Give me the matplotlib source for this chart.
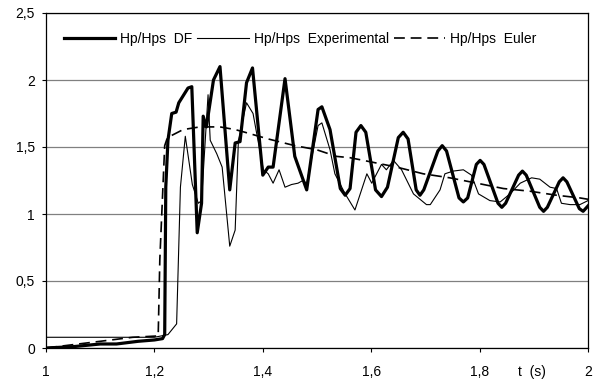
import matplotlib
matplotlib.use('Agg')
import matplotlib.pyplot as plt
from matplotlib.ticker import FuncFormatter

plt.rcParams['font.family'] = ['Liberation Sans', 'DejaVu Sans']
plt.rcParams['font.size'] = 10

# Hp/Hps DF (thick)
t_df = [1.0, 1.05, 1.10, 1.13, 1.17, 1.20, 1.215, 1.219, 1.221, 1.225, 1.232, 1.240, 1.245,
        1.262, 1.269, 1.279, 1.287, 1.290, 1.296, 1.309, 1.321, 1.339, 1.349, 1.358, 1.370,
        1.381, 1.400, 1.410, 1.419, 1.441, 1.459, 1.481, 1.502, 1.509, 1.524, 1.543, 1.552,
        1.561, 1.572, 1.581, 1.590, 1.608, 1.619, 1.630, 1.650, 1.659, 1.668, 1.683, 1.690,
        1.697, 1.723, 1.731, 1.739, 1.762, 1.770, 1.778, 1.794, 1.801, 1.808, 1.834, 1.841,
        1.848, 1.872, 1.879, 1.886, 1.911, 1.918, 1.925, 1.947, 1.954, 1.961, 1.984, 1.991, 2.0]
y_df = [0.0, 0.01, 0.03, 0.03, 0.05, 0.06, 0.07, 0.10, 1.20, 1.55, 1.75, 1.76, 1.83,
        1.94, 1.95, 0.86, 1.08, 1.73, 1.65, 2.00, 2.10, 1.18, 1.53, 1.54, 1.98,
        2.09, 1.29, 1.35, 1.35, 2.01, 1.43, 1.18, 1.78, 1.80, 1.63, 1.19, 1.14,
        1.19, 1.61, 1.66, 1.61, 1.18, 1.13, 1.20, 1.57, 1.61, 1.56, 1.18, 1.14,
        1.18, 1.47, 1.51, 1.47, 1.12, 1.09, 1.12, 1.37, 1.40, 1.37, 1.08, 1.05,
        1.08, 1.29, 1.32, 1.29, 1.05, 1.02, 1.05, 1.24, 1.27, 1.24, 1.04, 1.02, 1.06]

# Hp/Hps Experimental (thin)
t_exp = [1.0, 1.20, 1.225, 1.241, 1.248, 1.257, 1.270, 1.281, 1.287, 1.299, 1.303, 1.315,
         1.325, 1.339, 1.349, 1.355, 1.370, 1.382, 1.401, 1.410, 1.419, 1.430, 1.441, 1.453,
         1.465, 1.474, 1.481, 1.502, 1.509, 1.524, 1.533, 1.552, 1.570, 1.592, 1.601, 1.619,
         1.628, 1.641, 1.656, 1.678, 1.702, 1.709, 1.727, 1.736, 1.751, 1.770, 1.785, 1.798,
         1.819, 1.838, 1.856, 1.875, 1.896, 1.911, 1.930, 1.942, 1.951, 1.967, 1.985, 2.0]
y_exp = [0.08, 0.08, 0.10, 0.18, 1.20, 1.58, 1.22, 1.08, 1.10, 1.89, 1.55, 1.45,
         1.35, 0.76, 0.88, 1.55, 1.83, 1.75, 1.33, 1.30, 1.23, 1.33, 1.20, 1.22,
         1.23, 1.25, 1.23, 1.66, 1.68, 1.48, 1.30, 1.15, 1.03, 1.30, 1.23, 1.37,
         1.33, 1.40, 1.33, 1.15, 1.07, 1.07, 1.18, 1.30, 1.32, 1.33, 1.29, 1.15,
         1.10, 1.09, 1.15, 1.23, 1.27, 1.26, 1.20, 1.19, 1.08, 1.07, 1.07, 1.10]

# Hp/Hps Euler (dashed)
t_eu = [1.0, 1.04, 1.08, 1.12, 1.16, 1.207, 1.210, 1.219, 1.224, 1.253, 1.284, 1.321,
        1.349, 1.367, 1.410, 1.459, 1.499, 1.536, 1.561, 1.598, 1.647, 1.696, 1.745,
        1.795, 1.844, 1.893, 1.942, 1.985, 2.0]
y_eu = [0.0, 0.02, 0.04, 0.06, 0.08, 0.09, 0.66, 1.51, 1.57, 1.63, 1.65, 1.65,
        1.63, 1.61, 1.56, 1.51, 1.48, 1.43, 1.42, 1.39, 1.35, 1.30, 1.27,
        1.23, 1.19, 1.17, 1.14, 1.12, 1.11]

x_ticks = [1.0, 1.2, 1.4, 1.6, 1.8, 2.0]
y_ticks = [0, 0.5, 1.0, 1.5, 2.0, 2.5]

fig = plt.figure(figsize=(5.98, 3.84), dpi=100)
ax = fig.add_axes([46/598, 1 - 348/384, 542/598, 335/384])

ax.plot(t_df, y_df, color='black', lw=2.3, label='Hp/Hps  DF', solid_joinstyle='round')
ax.plot(t_exp, y_exp, color='black', lw=0.8, label='Hp/Hps  Experimental')
ax.plot(t_eu, y_eu, color='black', lw=1.2, dashes=(6.5, 3.5), label='Hp/Hps  Euler')

ax.set_xlim(1, 2)
ax.set_ylim(0, 2.5)
ax.set_xticks(x_ticks)
ax.set_yticks(y_ticks)
fmt = FuncFormatter(lambda v, p: ('%g' % v).replace('.', ','))
ax.xaxis.set_major_formatter(fmt)
ax.yaxis.set_major_formatter(fmt)
ax.tick_params(axis='x', direction='out', length=3, width=0.8, pad=9)
ax.tick_params(axis='y', direction='out', length=3, width=0.8, pad=5)
for sp in ax.spines.values():
    sp.set_linewidth(0.9)
ax.yaxis.grid(True, color='#808080', lw=0.9)
ax.set_axisbelow(True)

# axis unit written between the last two tick labels
ax.text(1.897, -0.052, 't  (s)', transform=ax.get_xaxis_transform(),
        ha='center', va='top', fontsize=10)

ax.legend(loc='center', bbox_to_anchor=(0.469, 0.922), ncol=3, frameon=False,
          handlelength=3.7, handletextpad=0.35, columnspacing=0.35, fontsize=10)

fig.savefig('out.png', dpi=100)
